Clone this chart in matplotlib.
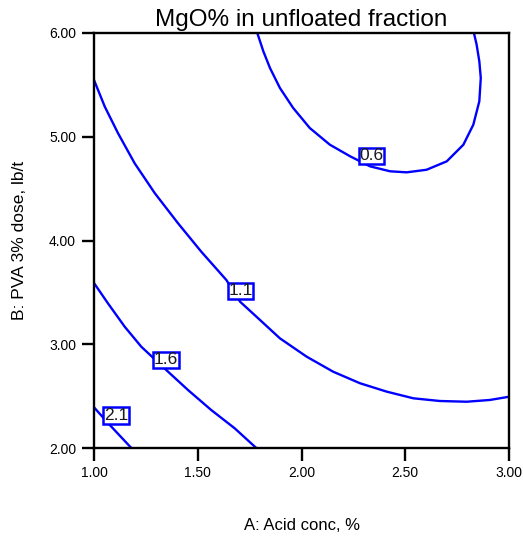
import matplotlib
matplotlib.use("Agg")
import matplotlib.pyplot as plt

plt.rcParams['font.family'] = ['Liberation Sans', 'DejaVu Sans']

# Contour lines (A: acid conc %, B: PVA dose lb/t)
c06_x = [1.787, 1.816, 1.848, 1.896, 1.960, 2.040, 2.137, 2.234, 2.330, 2.427, 2.507,
         2.603, 2.700, 2.780, 2.828, 2.857, 2.864, 2.857, 2.844, 2.831]
c06_y = [6.000, 5.824, 5.663, 5.470, 5.277, 5.084, 4.923, 4.812, 4.715, 4.667, 4.657,
         4.682, 4.763, 4.923, 5.116, 5.342, 5.566, 5.727, 5.887, 6.000]

c11_x = [1.000, 1.052, 1.116, 1.196, 1.293, 1.405, 1.517, 1.638, 1.704, 1.800, 1.896,
         2.025, 2.153, 2.282, 2.411, 2.539, 2.667, 2.796, 2.908, 3.000]
c11_y = [5.547, 5.290, 5.033, 4.744, 4.456, 4.166, 3.892, 3.619, 3.410, 3.234, 3.057,
         2.880, 2.735, 2.624, 2.543, 2.479, 2.453, 2.446, 2.463, 2.494]

c16_x = [1.000, 1.067, 1.148, 1.228, 1.348, 1.453, 1.565, 1.678, 1.782]
c16_y = [3.590, 3.395, 3.169, 2.976, 2.752, 2.559, 2.366, 2.190, 2.000]

c21_x = [1.000, 1.076, 1.180]
c21_y = [2.392, 2.222, 2.000]

levels = ["0.6", "1.1", "1.6", "2.1"]
label_x = [2.338, 1.706, 1.346, 1.107]
label_y = [4.816, 3.515, 2.851, 2.315]

x_ticks = [1.00, 1.50, 2.00, 2.50, 3.00]
y_ticks = [2.00, 3.00, 4.00, 5.00, 6.00]

fig = plt.figure(figsize=(5.23, 5.39), dpi=100)
ax = fig.add_axes([94/523, 1-448/539, 415/523, 415/539])

for xs, ys in [(c06_x, c06_y), (c11_x, c11_y), (c16_x, c16_y), (c21_x, c21_y)]:
    ax.plot(xs, ys, color='#0000ff', lw=1.7, solid_capstyle='butt',
            solid_joinstyle='round', zorder=2)

for lab, lx, ly in zip(levels, label_x, label_y):
    ax.text(lx, ly, lab, ha='center', va='center', fontsize=12.5, color='#1a1a1a', zorder=4,
            bbox=dict(boxstyle='square,pad=0.04', facecolor='white', edgecolor='#0000ff',
                      linewidth=1.8))

ax.set_xlim(1.0, 3.0)
ax.set_ylim(2.0, 6.0)
ax.set_xticks(x_ticks)
ax.set_yticks(y_ticks)
ax.set_xticklabels([f"{v:.2f}" for v in x_ticks])
ax.set_yticklabels([f"{v:.2f}" for v in y_ticks])
ax.tick_params(direction='out', length=9, width=1.7, labelsize=10, pad=4,
               top=False, right=False)
for s in ax.spines.values():
    s.set_linewidth(1.7)

ax.set_title("MgO% in unfloated fraction", fontsize=17.5, pad=5)
ax.set_xlabel("A: Acid conc, %", fontsize=12, labelpad=27)
ax.set_ylabel("B: PVA 3% dose, lb/t", fontsize=12.5, labelpad=16)

fig.savefig("out.png", dpi=100)
